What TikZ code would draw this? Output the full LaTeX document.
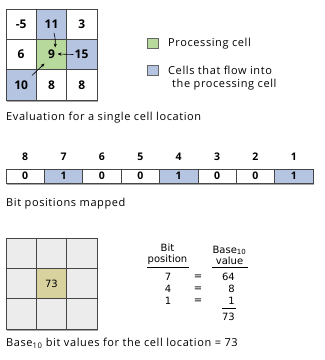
\documentclass[tikz,border=0pt]{standalone}
\usepackage{fontspec}
\setmainfont{Open Sans}
\newfontfamily\verd{DejaVu Sans}
\newfontfamily\captf[LetterSpace=5.5]{Open Sans}
\usetikzlibrary{arrows.meta,shadows}
\definecolor{procgreen}{RGB}{184,217,156}
\definecolor{flowblue}{RGB}{181,196,224}
\definecolor{cellgray}{RGB}{236,236,236}
\definecolor{khaki}{RGB}{216,211,158}
\definecolor{gridline}{RGB}{70,70,70}
\tikzset{
  cellbox/.style={draw=gridline, line width=0.6pt, minimum width=30.33pt, minimum height=30.33pt, inner sep=0pt, anchor=center, font=\bfseries\fontsize{12}{14}\selectfont},
  bitbox/.style={draw=gridline, line width=0.6pt, minimum width=38.375pt, minimum height=14pt, inner sep=0pt, font=\bfseries\fontsize{10.5}{12}\selectfont},
  bitlbl/.style={inner sep=0pt, font=\bfseries\fontsize{10.5}{12}\selectfont},
  legbox/.style={draw=gray!80!black, line width=0.6pt, minimum width=11pt, minimum height=10pt, inner sep=0pt},
  txt/.style={inner sep=0pt, font=\captf\fontsize{11}{12.5}\selectfont},
  tbl/.style={inner sep=0pt, font=\verd\fontsize{10}{11.5}\selectfont},
  arr/.style={-{Stealth[length=4pt,width=3.2pt]}, line width=0.6pt, black},
  shadowbg/.style={fill=white, drop shadow={shadow xshift=1.5pt, shadow yshift=-1.5pt, opacity=0.35, fill=black}},
}
\begin{document}
\begin{tikzpicture}[x=1pt,y=-1pt]
\useasboundingbox[fill=white] (0,0) rectangle (325,360);
% ---- top grid
\fill[shadowbg] (6,9) rectangle (97,100);
\node[cellbox] (a11) at (21.17,24.17) {-5};
\node[cellbox, fill=flowblue] (a12) at (51.5,24.17) {11};
\node[cellbox] (a13) at (81.83,24.17) {3};
\node[cellbox] (a21) at (21.17,54.5) {6};
\node[cellbox, fill=procgreen] (a22) at (51.5,54.5) {};
\node[cellbox, fill=flowblue] (a23) at (81.83,54.5) {};
\node[cellbox, fill=flowblue] (a31) at (21.17,84.83) {10};
\node[cellbox] (a32) at (51.5,84.83) {8};
\node[cellbox] (a33) at (81.83,84.83) {8};
\node[inner sep=1pt, font=\bfseries\fontsize{12}{14}\selectfont] (n9) at (51.5,54.5) {9};
\node[inner sep=1pt, font=\bfseries\fontsize{12}{14}\selectfont] (n15) at (81.5,54.5) {15};
\coordinate (s11) at (54,33);
\coordinate (t11) at (55,47.5);
\coordinate (t15) at (57.5,54);
\coordinate (s10) at (32,75.5);
\coordinate (t10) at (44.5,63.5);
\draw[arr] (s11) to[bend left=10] (t11);
\draw[arr] (n15.west) -- (t15);
\draw[arr] (s10) -- (t10);
% ---- legend
\node[legbox, fill=procgreen] (lg) at (152.5,43) {};
\node[legbox, fill=flowblue] (lb) at (152.5,70) {};
\node[txt, anchor=west] (tg) at (168,44) {Processing cell};
\node[txt, anchor=north west, align=left] (tb) at (168,66) {Cells that flow into\\\hspace*{4pt}the processing cell};
\node[txt, anchor=west] (cap1) at (6,118) {Evaluation for a single cell location};
% ---- bit bar
\fill[shadowbg] (6,169) rectangle (313,183);
\foreach \i/\v/\c in {1/0/white,2/1/flowblue,3/0/white,4/0/white,5/1/flowblue,6/0/white,7/0/white,8/1/flowblue}{
  \pgfmathsetmacro\xc{6+38.375*(\i-0.5)}
  \pgfmathtruncatemacro\pos{9-\i}
  \node[bitbox, fill=\c] (b\i) at (\xc,176) {\v};
  \node[bitlbl] (p\i) at (\xc,157) {\pos};
}
\node[txt, anchor=west] (cap2) at (6,204) {Bit positions mapped};
% ---- bottom grid
\fill[shadowbg] (6,238) rectangle (97,329);
\foreach \r in {1,2,3}{\foreach \c in {1,2,3}{
  \node[cellbox, fill=cellgray] (g\r\c) at ({6+30.33*(\c-0.5)},{238+30.33*(\r-0.5)}) {};
}}
\node[cellbox, fill=khaki, font=\verd\fontsize{10}{12}\selectfont] (g22b) at (g22) {73};
% ---- table
\node[tbl, align=center, anchor=south] (hbit) at (167.5,265) {Bit\\position};
\node[tbl, align=center, anchor=south] (hval) at (229.5,265) {Base\textsubscript{10}\\value};
\draw[line width=0.8pt] (147,267.5) -- (189,267.5);
\draw[line width=0.8pt] (212,267.5) -- (248,267.5);
\node[tbl] (r1a) at (168,277) {7};
\node[tbl] (r1e) at (198,277) {=};
\node[tbl, anchor=east] (r1v) at (235,277) {64};
\node[tbl] (r2a) at (168,289) {4};
\node[tbl] (r2e) at (198,289) {=};
\node[tbl, anchor=east] (r2v) at (235,289) {8};
\node[tbl] (r3a) at (168,301) {1};
\node[tbl] (r3e) at (198,301) {=};
\node[tbl, anchor=east] (r3v) at (235,301) {1};
\draw[line width=0.8pt] (222,308.5) -- (236,308.5);
\node[tbl, anchor=east] (tot) at (235,317) {73};
\node[txt, anchor=west] (cap3) at (6,343) {Base\textsubscript{10} bit values for the cell location = 73};
\end{tikzpicture}
\end{document}
